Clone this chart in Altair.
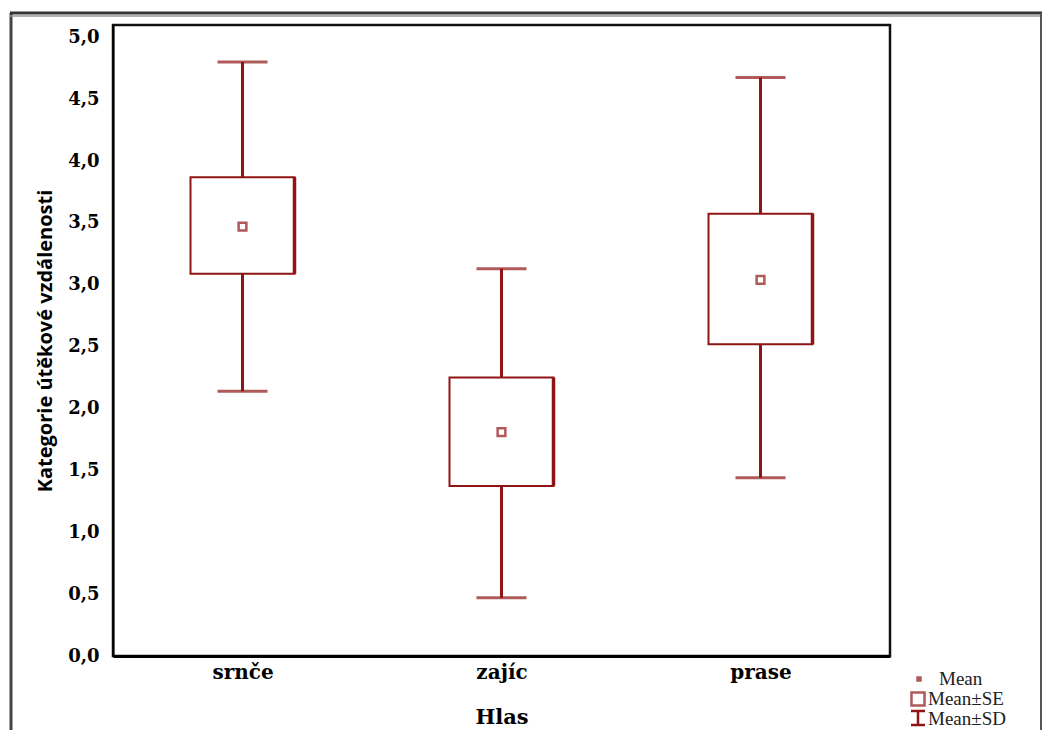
import altair as alt
import pandas as pd

categories = ["srnče", "zajíc", "prase"]
means = [3.47, 1.81, 3.04]
se_low = [3.09, 1.375, 2.52]
se_high = [3.87, 2.25, 3.575]
sd_low = [2.14, 0.47, 1.44]
sd_high = [4.80, 3.13, 4.675]
y_ticks = [0, 0.5, 1, 1.5, 2, 2.5, 3, 3.5, 4, 4.5, 5]

df = pd.DataFrame({
    "Hlas": categories,
    "mean": means,
    "se_lo": se_low,
    "se_hi": se_high,
    "sd_lo": sd_low,
    "sd_hi": sd_high,
})

RED = "#8f1414"
W, H = 777, 631

x = alt.X("Hlas:N", sort=categories, title="Hlas",
          scale=alt.Scale(type="point", padding=0.5),
          axis=alt.Axis(labelFont="DejaVu Serif", labelFontSize=20, labelFontWeight="bold",
                        labelColor="black", labelAngle=0, labelPadding=6,
                        titleFont="DejaVu Serif", titleFontSize=21, titleFontWeight="bold",
                        titleColor="black", titlePadding=24, ticks=False,
                        domain=True, domainColor="black", domainWidth=3))
yscale = alt.Scale(domain=[0, 5.1], nice=False, zero=True)
yaxis = alt.Axis(values=y_ticks, labelExpr="replace(format(datum.value, '.1f'), '.', ',')",
                 labelFont="DejaVu Serif", labelFontSize=18, labelFontWeight="bold",
                 labelColor="black", labelPadding=14, ticks=False, grid=False,
                 domain=True, domainColor="black", domainWidth=2,
                 title="Kategorie útěkové vzdálenosti", titleFont="Open Sans",
                 titleFontSize=20, titleFontWeight="bold", titleColor="black",
                 titlePadding=12)

base = alt.Chart(df)

whisk = base.mark_rule(color=RED, strokeWidth=3).encode(
    x=x, y=alt.Y("sd_lo:Q", scale=yscale, axis=yaxis), y2="sd_hi:Q")
box = base.mark_bar(size=104, fill="white", stroke=RED, strokeWidth=2).encode(
    x=x, y=alt.Y("se_lo:Q", scale=yscale), y2="se_hi:Q")
box_edge = base.mark_rule(color=RED, strokeWidth=3.5, xOffset=52).encode(
    x=x, y=alt.Y("se_lo:Q", scale=yscale), y2="se_hi:Q")
cap_hi = base.mark_tick(color=RED, size=50, thickness=3).encode(
    x=x, y=alt.Y("sd_hi:Q", scale=yscale))
cap_lo = base.mark_tick(color=RED, size=50, thickness=3).encode(
    x=x, y=alt.Y("sd_lo:Q", scale=yscale))
mean_pt = base.mark_square(size=60, filled=False, color=RED, strokeWidth=2.5).encode(
    x=x, y=alt.Y("mean:Q", scale=yscale))

# outer frame
frame_left = alt.Chart().mark_rule(color="#444", strokeWidth=3).encode(
    x=alt.value(-102), y=alt.value(-12), y2=alt.value(720))
frame_top = alt.Chart().mark_rule(color="#333", strokeWidth=3).encode(
    x=alt.value(-103), x2=alt.value(929), y=alt.value(-12))
frame_top2 = alt.Chart().mark_rule(color="#999", strokeWidth=1.5).encode(
    x=alt.value(-103), x2=alt.value(929), y=alt.value(-9))
frame_right = alt.Chart().mark_rule(color="#555", strokeWidth=2).encode(
    x=alt.value(928), y=alt.value(-12), y2=alt.value(720))

# legend
FONT = "Liberation Serif"
FS = 19
leg_mean = alt.Chart().mark_square(size=30, filled=True, color=RED).encode(
    x=alt.value(806), y=alt.value(654))
leg_mean_t = alt.Chart().mark_text(text="Mean", font=FONT, fontSize=FS,
                                   align="left", baseline="alphabetic", color="#222").encode(
    x=alt.value(826), y=alt.value(660))
leg_se = alt.Chart().mark_square(size=170, filled=False, color=RED, strokeWidth=2.5).encode(
    x=alt.value(805), y=alt.value(674))
leg_se_t = alt.Chart().mark_text(text="Mean±SE", font=FONT, fontSize=FS,
                                 align="left", baseline="alphabetic", color="#222").encode(
    x=alt.value(815), y=alt.value(680))
leg_sd_v = alt.Chart().mark_rule(color=RED, strokeWidth=2.5).encode(
    x=alt.value(805), y=alt.value(686), y2=alt.value(700))
leg_sd_t1 = alt.Chart().mark_rule(color=RED, strokeWidth=2.5).encode(
    x=alt.value(798), x2=alt.value(812), y=alt.value(686))
leg_sd_t2 = alt.Chart().mark_rule(color=RED, strokeWidth=2.5).encode(
    x=alt.value(798), x2=alt.value(812), y=alt.value(700))
leg_sd_t = alt.Chart().mark_text(text="Mean±SD", font=FONT, fontSize=FS,
                                 align="left", baseline="alphabetic", color="#222").encode(
    x=alt.value(815), y=alt.value(700))

chart = alt.layer(
    whisk, box, box_edge, cap_hi, cap_lo, mean_pt,
    frame_left, frame_top, frame_top2, frame_right,
    leg_mean, leg_mean_t, leg_se, leg_se_t, leg_sd_v, leg_sd_t1, leg_sd_t2, leg_sd_t,
).properties(
    width=W, height=H,
    autosize=alt.AutoSizeParams(type="none"),
    padding={"left": 105, "top": 17, "right": 153, "bottom": 74},
    background="white",
).configure_view(stroke="#111", strokeWidth=2.5)

chart.save("out.html", embed_options={"renderer": "svg", "actions": False})
